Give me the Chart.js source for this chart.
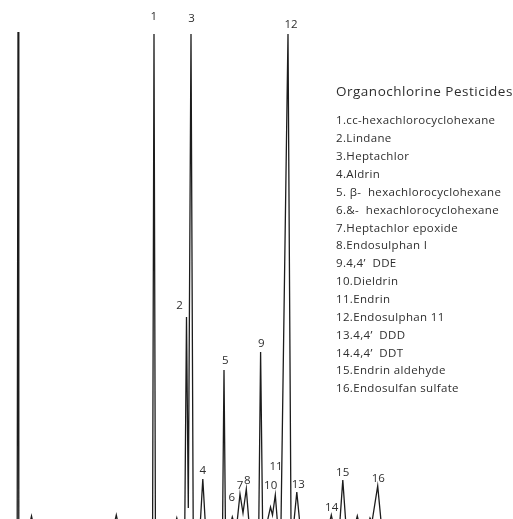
<!DOCTYPE html>
<html><head><meta charset="utf-8">
<script src="https://cdn.jsdelivr.net/npm/chart.js@4/dist/chart.umd.min.js"></script>
<style>html,body{margin:0;padding:0;background:#fff;overflow:hidden}canvas{display:block}</style>
</head><body>
<canvas id="c" width="513" height="519"></canvas>
<script>
// Chromatogram trace (retention time in arbitrary units, detector signal in arbitrary units)
const retentionTime = [0, 17.2, 18, 18.8, 30, 31.5, 33, 114.5, 116.3, 118, 152.6, 154, 155.4, 175.5, 176.8, 178,
  184.8, 186.5, 188.3, 191, 193.2, 200.3, 202.8, 205.3, 222.6, 224, 225.4, 230.8, 232.3, 233.8,
  237, 240, 243, 246.3, 249, 258.8, 260.6, 262.6, 267, 270.5, 272.5, 275.3, 277.5,
  281, 288, 291, 293.8, 296.8, 299.8, 329.5, 331.3, 333, 339.8, 342.8, 345.8,
  355.5, 357.3, 359, 368.5, 370, 372, 377.7, 381.2, 420];
const signal = [0, 0, 491, 0, 0, 7, 0, 0, 8, 0, 0, 489, 0, 0, 5, 0,
  0, 206, 15, 489, 0, 0, 44, 0, 0, 153, 0, 0, 6, 1,
  0, 29, 10, 34, 0, 0, 171, 0, 0, 16, 8, 28, 0,
  0, 489, 0, 0, 31, 0, 0, 8, 0, 0, 43, 0,
  0, 7, 0, 0, 5, 1, 37, 0, 0];

// Peak numbers and where their labels sit (same units as the trace)
const peakNumbers = ['1','2','3','4','5','6','7','8','9','10','11','12','13','14','15','16'];
const peakLabelTime = [153.8, 179.5, 191.5, 202.7, 225.3, 231.7, 240, 247.3, 261.2, 270.7, 276, 291, 298.3, 331.7, 342.7, 378.3];
const peakLabelSignal = [506, 217, 504, 52, 162, 25, 37, 42, 179, 37, 56, 498, 38, 15, 50, 44];

const chartTitle = 'Organochlorine Pesticides';
const compoundNames = [
  '1.cc-hexachlorocyclohexane',
  '2.Lindane',
  '3.Heptachlor',
  '4.Aldrin',
  '5. \u03B2-  hexachlorocyclohexane',
  '6.&-  hexachlorocyclohexane',
  '7.Heptachlor epoxide',
  '8.Endosulphan I',
  '9.4,4\u2019  DDE',
  '10.Dieldrin',
  '11.Endrin',
  '12.Endosulphan 11',
  '13.4,4\u2019  DDD',
  '14.4,4\u2019  DDT',
  '15.Endrin aldehyde',
  '16.Endosulfan sulfate'
];

const textPlugin = {
  id: 'peakText',
  afterDatasetsDraw(chart) {
    const ctx = chart.ctx;
    const xs = chart.scales.x, ys = chart.scales.y;
    ctx.save();
    ctx.fillStyle = '#2e2e2e';
    ctx.font = '11.5px "Open Sans"';
    ctx.textAlign = 'center';
    ctx.textBaseline = 'middle';
    peakNumbers.forEach((n, i) => {
      ctx.fillText(n, xs.getPixelForValue(peakLabelTime[i]), ys.getPixelForValue(peakLabelSignal[i]));
    });
    ctx.textAlign = 'left';
    ctx.letterSpacing = '0.5px';
    ctx.font = '13.5px "Open Sans"';
    ctx.fillText(chartTitle, 336, 92);
    ctx.letterSpacing = '0.35px';
    ctx.font = '11.5px "Open Sans"';
    compoundNames.forEach((s, i) => ctx.fillText(s, 336, 121 + i * 17.87));
    ctx.restore();
  }
};

new Chart(document.getElementById('c'), {
  type: 'line',
  data: {
    datasets: [{
      data: retentionTime.map((t, i) => ({ x: t, y: signal[i] })),
      borderColor: '#1c1c1c',
      borderWidth: 1.3,
      pointRadius: 0,
      tension: 0,
      fill: false
    }]
  },
  options: {
    responsive: false,
    animation: false,
    layout: { padding: 0 },
    plugins: { legend: { display: false }, tooltip: { enabled: false } },
    scales: {
      x: { type: 'linear', min: 0, max: 513, display: false },
      y: { type: 'linear', min: 4, max: 523, display: false }
    }
  },
  plugins: [textPlugin]
});
</script>
</body></html>
